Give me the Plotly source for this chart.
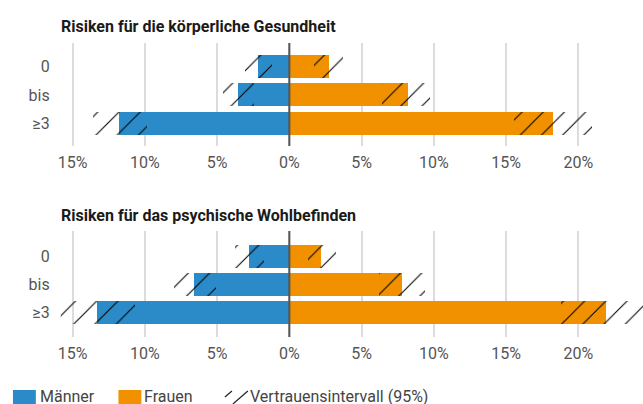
import plotly.graph_objects as go

categories = ["0", "bis", "≥3"]

koerper_maenner = [2.2, 3.6, 11.8]
koerper_maenner_ci_low = [1.2, 2.5, 9.9]
koerper_maenner_ci_high = [3.1, 4.6, 13.6]
koerper_frauen = [2.7, 8.2, 18.2]
koerper_frauen_ci_low = [1.7, 6.4, 15.5]
koerper_frauen_ci_high = [3.7, 9.7, 20.9]

psyche_maenner = [2.8, 6.6, 13.3]
psyche_maenner_ci_low = [1.8, 5.1, 10.7]
psyche_maenner_ci_high = [3.8, 8.0, 16.0]
psyche_frauen = [2.2, 7.8, 21.9]
psyche_frauen_ci_low = [1.3, 6.2, 18.8]
psyche_frauen_ci_high = [3.2, 9.4, 25.0]

tick_vals = [-15, -10, -5, 0, 5, 10, 15, 20]
tick_text = ["15%", "10%", "5%", "0%", "5%", "10%", "15%", "20%"]

titles = ["Risiken für die körperliche Gesundheit", "Risiken für das psychische Wohlbefinden"]
legend_labels = ["Männer", "Frauen", "Vertrauensintervall (95%)"]

BLUE = "#2a8bc8"
ORANGE = "#f29100"
W, H = 643, 404
FONT = "Roboto"
ypos = list(range(len(categories)))

fig = go.Figure()

panels = [
    (koerper_maenner, koerper_maenner_ci_low, koerper_maenner_ci_high,
     koerper_frauen, koerper_frauen_ci_low, koerper_frauen_ci_high, "x", "y"),
    (psyche_maenner, psyche_maenner_ci_low, psyche_maenner_ci_high,
     psyche_frauen, psyche_frauen_ci_low, psyche_frauen_ci_high, "x2", "y2"),
]

hatch = dict(shape="/", fgcolor="#000000", fgopacity=1, bgcolor="rgba(0,0,0,0)",
             size=15, solidity=0.07, fillmode="overlay")

for m, mlo, mhi, f, flo, fhi, xa, ya in panels:
    fig.add_trace(go.Bar(y=ypos, x=[-v for v in m], orientation="h", width=0.81,
                         marker=dict(color=BLUE, line=dict(width=0)),
                         xaxis=xa, yaxis=ya, showlegend=False, hoverinfo="skip"))
    fig.add_trace(go.Bar(y=ypos, x=f, orientation="h", width=0.81,
                         marker=dict(color=ORANGE, line=dict(width=0)),
                         xaxis=xa, yaxis=ya, showlegend=False, hoverinfo="skip"))
    fig.add_trace(go.Bar(y=ypos, x=[h - l for l, h in zip(mlo, mhi)],
                         base=[-h for h in mhi], orientation="h", width=0.81,
                         marker=dict(color="rgba(0,0,0,0)", line=dict(width=0), pattern=hatch),
                         xaxis=xa, yaxis=ya, showlegend=False, hoverinfo="skip",
                         cliponaxis=False))
    fig.add_trace(go.Bar(y=ypos, x=[h - l for l, h in zip(flo, fhi)],
                         base=flo, orientation="h", width=0.81,
                         marker=dict(color="rgba(0,0,0,0)", line=dict(width=0), pattern=hatch),
                         xaxis=xa, yaxis=ya, showlegend=False, hoverinfo="skip",
                         cliponaxis=False))

x0 = 58 / W
xrange = [-15.82, 24.47]
top_dom = [1 - 146 / H, 1 - 43 / H]
bot_dom = [1 - 337 / H, 1 - 231 / H]

xcommon = dict(range=xrange, tickvals=tick_vals, ticktext=tick_text,
               showgrid=True, gridcolor="#dcdcdc", gridwidth=1.5,
               zeroline=False, showline=False, ticks="", ticklabelstandoff=5,
               tickfont=dict(family=FONT, size=16, color="#555555"),
               fixedrange=True, domain=[x0, 1])
ycommon = dict(tickvals=ypos, ticktext=categories, showgrid=False, zeroline=False,
               showline=False, ticks="", ticklabelstandoff=10,
               tickfont=dict(family=FONT, size=16, color="#555555"), fixedrange=True)

fig.update_layout(
    width=W, height=H,
    margin=dict(l=0, r=0, t=0, b=0),
    paper_bgcolor="white", plot_bgcolor="white",
    barmode="overlay", bargap=0,
    showlegend=False,
    xaxis=dict(**xcommon, anchor="y"),
    xaxis2=dict(**xcommon, anchor="y2"),
    yaxis=dict(**ycommon, range=[2.79, -0.82], domain=top_dom, anchor="x"),
    yaxis2=dict(**ycommon, range=[2.87, -0.9], domain=bot_dom, anchor="x2"),
)

shapes = []
for xa, ya in [("x", "y"), ("x2", "y2")]:
    shapes.append(dict(type="line", xref=xa, yref=ya + " domain", x0=0, x1=0, y0=0, y1=1,
                       line=dict(color="#555555", width=2), layer="above"))

# legend
def px(x):
    return x / W

def py(y):
    return 1 - y / H

shapes.append(dict(type="rect", xref="paper", yref="paper", x0=px(10), x1=px(33),
                   y0=py(405), y1=py(390), fillcolor=BLUE, line=dict(width=0)))
shapes.append(dict(type="rect", xref="paper", yref="paper", x0=px(116), x1=px(139),
                   y0=py(405), y1=py(390), fillcolor=ORANGE, line=dict(width=0)))
shapes.append(dict(type="line", xref="paper", yref="paper", x0=px(223), x1=px(230),
                   y0=py(397), y1=py(391), line=dict(color="#222222", width=1.2)))
shapes.append(dict(type="line", xref="paper", yref="paper", x0=px(231), x1=px(246),
                   y0=py(404), y1=py(391), line=dict(color="#222222", width=1.2)))
fig.update_layout(shapes=shapes)

annotations = []
for t, ytop in zip(titles, [26, 215]):
    annotations.append(dict(text="<b>" + t + "</b>", xref="paper", yref="paper",
                            x=px(56), y=py(ytop), xanchor="left", yanchor="middle",
                            showarrow=False,
                            font=dict(family=FONT, size=16, color="#1a1a1a")))
for lbl, xl in zip(legend_labels, [35, 140, 246]):
    annotations.append(dict(text=lbl, xref="paper", yref="paper", x=px(xl), y=py(396.5),
                            xanchor="left", yanchor="middle", showarrow=False,
                            font=dict(family=FONT, size=16, color="#444444")))
fig.update_layout(annotations=annotations)

fig.write_html("out.html", config={"displayModeBar": False},
               post_script="document.body.style.margin='0';")
